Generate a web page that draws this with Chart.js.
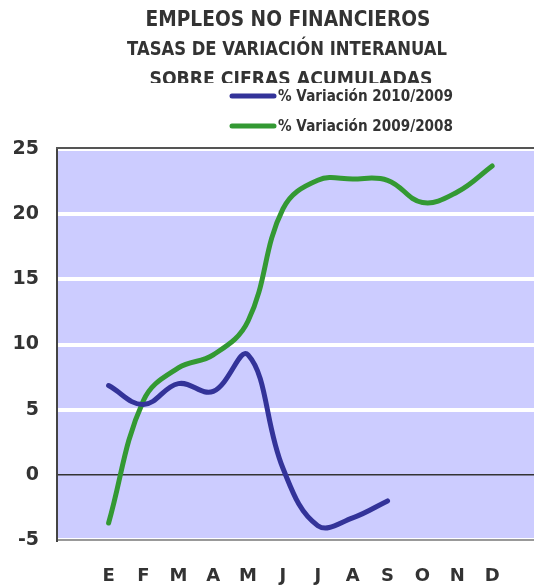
<!DOCTYPE html>
<html>
<head>
    <title>Empleos no financieros</title>
    <script src="https://cdn.jsdelivr.net/npm/chart.js"></script>
    <style>
        html, body { margin: 0; padding: 0; background: #fff; }
        #wrap { width: 534px; height: 585px; }
    </style>
</head>
<body>
    <div id="wrap"><canvas id="empleosChart"></canvas></div>
    <script>
        // month initials on the x axis
        const months = ['E', 'F', 'M', 'A', 'M', 'J', 'J', 'A', 'S', 'O', 'N', 'D'];
        const yTicks = [-5, 0, 5, 10, 15, 20, 25];

        const labelSerie2010 = '% Variación 2010/2009';
        const labelSerie2009 = '% Variación 2009/2008';

        // values
        const serie2010 = [6.85, 5.4, 7.0, 6.4, 9.2, 0.5, -3.9, -3.3, -2.0];
        const serie2009 = [-3.7, 5.7, 8.2, 9.2, 11.8, 20.4, 22.6, 22.7, 22.6, 20.9, 21.7, 23.7];

        const titleLines = ['EMPLEOS NO FINANCIEROS', 'TASAS DE VARIACIÓN INTERANUAL', 'SOBRE CIFRAS ACUMULADAS'];

        const FONT = '"DejaVu Sans", Arial, sans-serif';
        const toPoints = arr => arr.map((v, i) => ({ x: i, y: v }));

        const fondo = {
            id: 'fondo',
            beforeDraw(chart) {
                const { ctx, chartArea: a } = chart;
                ctx.save();
                ctx.fillStyle = '#ccccff';
                ctx.fillRect(a.left, a.top, a.right - a.left, a.bottom - a.top);
                ctx.restore();
            },
            afterDraw(chart) {
                const { ctx, chartArea: a } = chart;
                ctx.save();
                // top border
                ctx.strokeStyle = '#555';
                ctx.lineWidth = 2;
                ctx.beginPath();
                ctx.moveTo(a.left - 1, a.top - 1);
                ctx.lineTo(a.right, a.top - 1);
                ctx.stroke();

                // titles
                ctx.fillStyle = '#333';
                ctx.textAlign = 'center';
                ctx.textBaseline = 'middle';
                ctx.font = 'bold 21px ' + FONT;
                ctx.fillText(titleLines[0], 288, 21, 285);
                ctx.font = 'bold 19px ' + FONT;
                ctx.fillText(titleLines[1], 287, 50, 320);
                ctx.save();
                ctx.beginPath();
                ctx.rect(0, 0, 534, 83);
                ctx.clip();
                ctx.fillText(titleLines[2], 291, 80, 283);
                ctx.restore();

                // legend
                const ys = [96, 126];
                chart.data.datasets.forEach((ds, i) => {
                    ctx.strokeStyle = ds.borderColor;
                    ctx.lineWidth = 5;
                    ctx.lineCap = 'round';
                    ctx.beginPath();
                    ctx.moveTo(232, ys[i]);
                    ctx.lineTo(274, ys[i]);
                    ctx.stroke();
                    ctx.fillStyle = '#333';
                    ctx.textAlign = 'left';
                    ctx.font = 'bold 15px ' + FONT;
                    ctx.fillText(ds.label, 278, ys[i] + 1, 175);
                });
                ctx.restore();
            }
        };

        const ctx = document.getElementById('empleosChart').getContext('2d');
        new Chart(ctx, {
            type: 'line',
            data: {
                datasets: [{
                    label: labelSerie2010,
                    data: toPoints(serie2010),
                    borderColor: '#333399',
                    borderWidth: 5,
                    borderCapStyle: 'round',
                    tension: 0.4,
                    pointRadius: 0,
                    fill: false
                }, {
                    label: labelSerie2009,
                    data: toPoints(serie2009),
                    borderColor: '#339933',
                    borderWidth: 5,
                    borderCapStyle: 'round',
                    tension: 0.4,
                    pointRadius: 0,
                    fill: false
                }]
            },
            options: {
                responsive: true,
                maintainAspectRatio: false,
                animation: false,
                layout: { padding: { top: 149, left: 0, right: 0, bottom: 0 } },
                plugins: {
                    legend: { display: false },
                    title: { display: false },
                    tooltip: { enabled: false }
                },
                scales: {
                    x: {
                        type: 'linear',
                        min: -1.48,
                        max: 12.2,
                        afterBuildTicks(scale) {
                            scale.ticks = months.map((m, i) => ({ value: i }));
                        },
                        afterFit(scale) { scale.height = 45; },
                        grid: { display: false, drawTicks: false },
                        border: { color: '#999', width: 2 },
                        ticks: {
                            padding: 26,
                            maxRotation: 0,
                            autoSkip: false,
                            color: '#333',
                            font: { family: FONT, size: 18, weight: 'bold' },
                            callback: v => months[v] || ''
                        }
                    },
                    y: {
                        min: -5,
                        max: 25,
                        afterBuildTicks(scale) {
                            scale.ticks = yTicks.map(v => ({ value: v }));
                        },
                        afterFit(scale) { scale.width = 57; },
                        grid: {
                            drawTicks: false,
                            color: c => c.tick && c.tick.value === 0 ? '#333' : '#ffffff',
                            lineWidth: c => c.tick && c.tick.value === 0 ? 1.5 : 4
                        },
                        border: { color: '#444', width: 2 },
                        ticks: {
                            padding: 18,
                            color: '#333',
                            font: { family: FONT, size: 19, weight: 'bold' }
                        }
                    }
                }
            },
            plugins: [fondo]
        });
    </script>
</body>
</html>
